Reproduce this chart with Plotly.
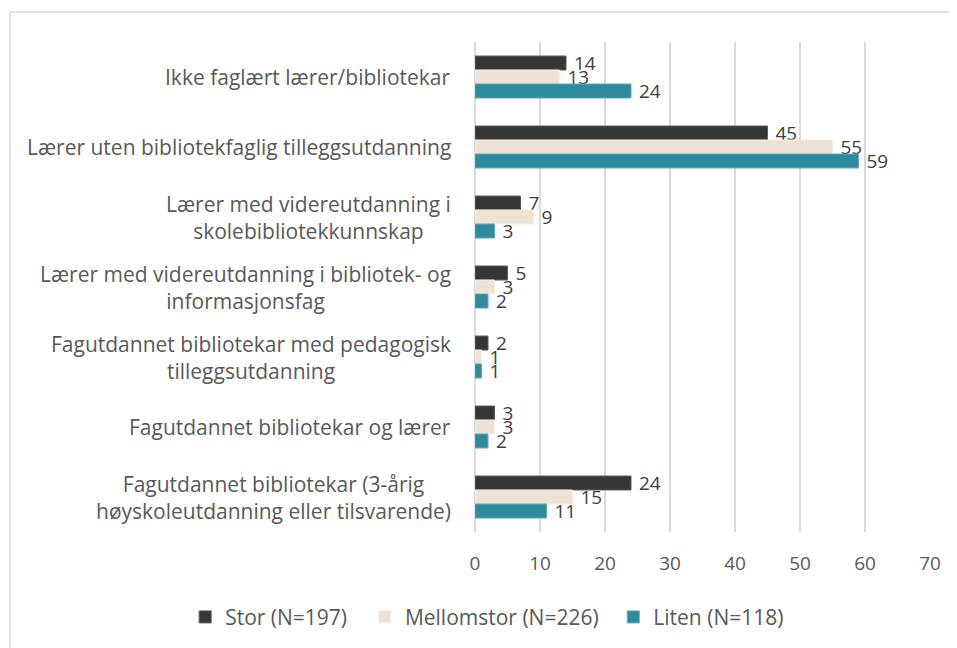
import plotly.graph_objects as go

categories = [
    "Ikke faglært lærer/bibliotekar",
    "Lærer uten bibliotekfaglig tilleggsutdanning",
    "Lærer med videreutdanning i<br>skolebibliotekkunnskap",
    "Lærer med videreutdanning i bibliotek- og<br>informasjonsfag",
    "Fagutdannet bibliotekar med pedagogisk<br>tilleggsutdanning",
    "Fagutdannet bibliotekar og lærer",
    "Fagutdannet bibliotekar (3-årig<br>høyskoleutdanning eller tilsvarende)",
]
stor = [14, 45, 7, 5, 2, 3, 24]
mellomstor = [13, 55, 9, 3, 1, 3, 15]
liten = [24, 59, 3, 2, 1, 2, 11]

# name, values, fill, edge, legend id, legend x
series = [
    ("Stor (N=197)", stor, "#363636", "#5c5c5c", "legend", -0.637),
    ("Mellomstor (N=226)", mellomstor, "#EDE2D4", "#f5eee5", "legend2", -0.242),
    ("Liten (N=118)", liten, "#2E8B9E", "#5fa9b8", "legend3", 0.304),
]

font = "Open Sans"
grey = "#595959"

fig = go.Figure()
legends = {}
for name, vals, col, edge, lg, lx in series:
    fig.add_trace(go.Bar(
        y=categories, x=vals, name=name, orientation="h", legend=lg,
        marker=dict(color=col, line=dict(color=edge, width=1)),
        text=vals, texttemplate=" %{text}", textposition="outside",
        cliponaxis=False, constraintext="none",
        textfont=dict(family=font, size=19, color="#404040"),
    ))
    legends[lg] = dict(orientation="h", x=lx, xanchor="left", y=-0.174, yanchor="middle",
                       bgcolor="rgba(0,0,0,0)",
                       font=dict(family=font, size=21, color=grey))

# category labels, centred line by line like the original
for c in categories:
    fig.add_annotation(x=0, y=c, xref="paper", yref="y", text=c,
                       showarrow=False, xanchor="right", align="center",
                       xshift=-22, font=dict(family=font, size=21, color=grey))

fig.add_shape(type="rect", xref="paper", yref="paper",
              x0=-1.022, x1=1.07, y0=-0.3, y1=1.061,
              line=dict(color="#D9D9D9", width=1.5), fillcolor="rgba(0,0,0,0)")

fig.update_layout(
    width=957, height=648,
    margin=dict(l=467, r=35, t=34, b=124),
    paper_bgcolor="white", plot_bgcolor="white",
    barmode="group", bargap=0.4, bargroupgap=0,
    showlegend=True,
    xaxis=dict(range=[0, 70], dtick=10, showgrid=True, gridcolor="#D9D9D9", gridwidth=1.5,
               zeroline=True, zerolinecolor="#D9D9D9", zerolinewidth=1.5,
               tickfont=dict(family=font, size=19, color=grey), ticklen=0,
               ticks="outside", tickcolor="white", ticklabelstandoff=14),
    yaxis=dict(autorange="reversed", showticklabels=False, showgrid=False),
    **legends,
)

fig.write_html("out.html")
